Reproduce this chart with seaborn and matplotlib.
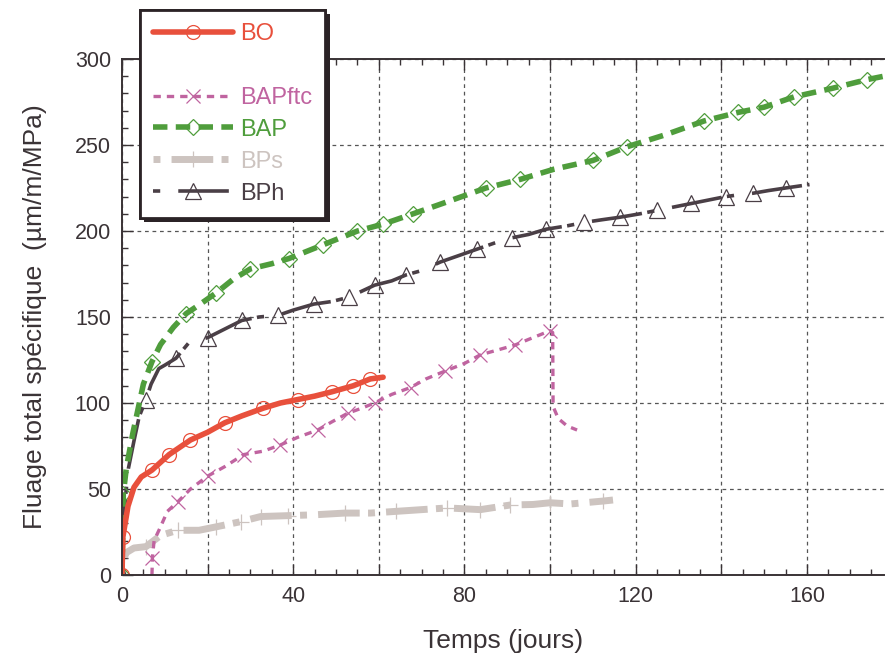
import matplotlib
matplotlib.use("Agg")
import matplotlib.pyplot as plt
import matplotlib.patheffects as pe
from matplotlib.lines import Line2D
from matplotlib.ticker import MultipleLocator, FuncFormatter
import seaborn as sns

# Data (days, specific creep in um/m/MPa)
bo_x = [0, 0.2, 1.4, 2.8, 4.5, 7, 11, 16, 20, 24, 28, 33, 37, 41, 45, 49, 54, 58, 61]
bo_y = [0, 22, 40, 51, 57, 61, 70, 78.5, 83, 88.5, 92.5, 97, 100, 102, 104, 106.5, 110, 114, 115]
bo_marks = [0, 1, 5, 6, 7, 9, 11, 13, 15, 16, 17]

ftc_x = [7, 7.1, 7.5, 9, 10.6, 13, 16, 20, 24, 28.4, 33, 37, 41, 45.7, 49, 52.7, 56, 59,
         63, 67.4, 71, 75.5, 80, 83.7, 88, 91.8, 95, 98, 100, 100.6, 100.7, 101.9, 104, 106.3]
ftc_y = [0, 10, 20, 28, 37, 42.5, 50, 57.5, 63, 70, 72, 75.6, 80, 84.3, 89, 94, 97, 100,
         105, 109, 114, 118.6, 123, 128, 131, 133.7, 137, 140, 142, 141, 98, 91, 86.6, 84.3]
ftc_marks = [1, 5, 7, 9, 11, 13, 15, 17, 19, 21, 23, 25, 28]

bap_x = [0, 0.3, 1, 2.5, 5, 7, 9, 12, 15, 18, 22, 26, 30, 35, 39, 43, 47, 51, 55, 61, 68,
         76, 85, 93, 101, 110, 118, 127, 136, 144, 150, 157, 166, 174, 178]
bap_y = [0, 47, 62, 82, 111, 124, 134, 144, 152, 157, 164, 172, 178, 181, 184, 188, 192,
         196, 200, 204, 210, 217, 225, 230, 236, 241, 249, 256, 264, 269, 272, 278, 283, 288, 290]
bap_marks = [0, 1, 5, 8, 10, 12, 14, 16, 18, 19, 20, 22, 23, 25, 26, 28, 29, 30, 31, 32, 33]

bps_x = [0, 0.5, 1, 2.8, 5.6, 9, 13, 18, 22, 27.7, 32.4, 38.7, 45, 52, 58, 64, 70, 76,
         83.7, 90.7, 96, 100, 104.7, 108, 112.4, 114.7]
bps_y = [0, 10, 13, 15.7, 16.5, 23, 26, 26, 28, 31, 34, 34.5, 35, 36, 36, 37, 38, 39,
         38, 40.7, 41, 42, 41.3, 42, 43, 43.6]
bps_marks = [4, 6, 8, 9, 10, 11, 13, 15, 17, 18, 19, 21, 24]

bph_x = [0, 0.3, 0.8, 1.5, 2.8, 4, 5.6, 6.8, 8.6, 10, 12.6, 15.6, 20, 24, 28, 32, 36.5, 40,
         44.8, 49, 53, 56, 59, 63, 66.4, 70, 74.4, 79, 83, 87, 91, 95, 99, 104, 108, 112,
         116.3, 121, 125, 129, 133, 137, 141, 144, 147.5, 151, 155, 160.6]
bph_y = [0, 25, 45, 62, 78, 92, 102, 111, 120, 122, 126, 135, 138, 143, 148, 150, 151, 154,
         157.5, 159, 161.5, 165, 168.5, 171, 174.5, 177, 182, 186, 189.5, 193, 196, 198, 201,
         203, 205, 206.5, 208, 210, 212, 214, 216, 218, 220, 221, 222, 223.5, 225, 227]
bph_marks = [0, 6, 10, 12, 14, 16, 18, 20, 22, 24, 26, 28, 30, 32, 34, 36, 38, 40, 42, 44, 46]

sns.set_style("ticks")
plt.rcParams["font.family"] = ["Liberation Sans", "DejaVu Sans"]
ink = "#3a3336"

fig = plt.figure(figsize=(8.85, 6.61), dpi=100)
ax = fig.add_axes([122 / 885, 1 - 575 / 661, 762 / 885, 516 / 661])

series = [
    ("BPs", bps_x, bps_y, bps_marks, "#cdc4c0", 5, (0, (1, 1.6, 6, 1.2)), "+", 11),
    ("BPh", bph_x, bph_y, bph_marks, "#4a3f46", 2.6, (0, (2, 5, 14, 1.5)), "^", 11),
    ("BAPftc", ftc_x, ftc_y, ftc_marks, "#c064a0", 2.4, (0, (2.2, 1.8)), "x", 10),
    ("BAP", bap_x, bap_y, bap_marks, "#4f9d3c", 4, (0, (2.6, 1.5)), "D", 8),
    ("BO", bo_x, bo_y, bo_marks, "#e8503c", 4, "-", "o", 10),
]
handles = {}
for name, xs, ys, marks, col, lw, ls, mk, ms in series:
    sns.lineplot(x=xs, y=ys, ax=ax, color=col, linewidth=lw, linestyle=ls,
                 marker=mk, markevery=marks, markersize=ms,
                 markerfacecolor="none", markeredgecolor=col, markeredgewidth=0.9,
                 estimator=None, sort=False, label=name)
    handles[name] = ax.lines[-1]

ax.set_xlim(0, 178)
ax.set_ylim(0, 300)
ax.xaxis.set_major_locator(MultipleLocator(20))
ax.xaxis.set_minor_locator(MultipleLocator(5))
ax.xaxis.set_major_formatter(FuncFormatter(lambda v, p: f"{v:.0f}" if v % 40 == 0 else ""))
ax.yaxis.set_major_locator(MultipleLocator(50))
ax.yaxis.set_minor_locator(MultipleLocator(10))
ax.grid(True, which="major", linestyle=(0, (3, 3)), color="#555555", linewidth=0.9)
ax.tick_params(which="both", direction="in", top=True, right=False, colors=ink,
               labelsize=15.5, width=1)
ax.tick_params(which="major", length=8, pad=8)
ax.tick_params(which="minor", length=4)
for s in ax.spines.values():
    s.set_color(ink)
    s.set_linewidth(1.4)
ax.spines["right"].set_visible(False)

ax.set_xlabel("Temps (jours)", fontsize=19, color=ink, labelpad=16)
ax.set_ylabel("Fluage total spécifique  (µm/m/MPa)", fontsize=19, color=ink, labelpad=20)

blank = Line2D([], [], color="none")
order = ["BO", None, "BAPftc", "BAP", "BPs", "BPh"]
leg = ax.legend([handles[n] if n else blank for n in order],
                [n if n else " " for n in order],
                loc="upper left", bbox_to_anchor=(140 / 885, 1 - 10 / 661),
                bbox_transform=fig.transFigure, borderaxespad=0, fontsize=17,
                handlelength=3.4, labelspacing=0.42, borderpad=0.55, handletextpad=0.3,
                frameon=True, fancybox=False, framealpha=1)
frame = leg.get_frame()
frame.set_edgecolor("#2b2326")
frame.set_linewidth(2)
frame.set_path_effects([pe.withSimplePatchShadow(offset=(3, -3), shadow_rgbFace="#2b2326", alpha=1),
                        pe.Normal()])
for t, n in zip(leg.get_texts(), order):
    if n:
        t.set_color(handles[n].get_color())

fig.savefig("out.png", dpi=100)
